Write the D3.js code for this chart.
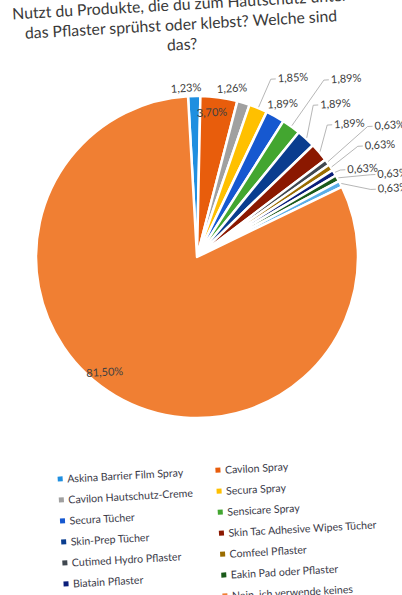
<!DOCTYPE html>
<html>
<head>
<meta charset="utf-8">
<script src="https://cdn.jsdelivr.net/npm/d3@7"></script>
<style>
  html, body { margin: 0; padding: 0; background: #fff; }
  svg { display: block; }
</style>
</head>
<body>
<div id="chart"></div>
<script>
// data
const categories = [
    "Askina Barrier Film Spray",
    "Cavilon Spray",
    "Cavilon Hautschutz-Creme",
    "Secura Spray",
    "Secura Tücher",
    "Sensicare Spray",
    "Skin-Prep Tücher",
    "Skin Tac Adhesive Wipes Tücher",
    "Cutimed Hydro Pflaster",
    "Comfeel Pflaster",
    "Biatain Pflaster",
    "Eakin Pad oder Pflaster",
    "",
    "Nein, ich verwende keines"
];
const percents = [1.23, 3.70, 1.26, 1.85, 1.89, 1.89, 1.89, 1.89, 0.63, 0.63, 0.63, 0.63, 0.63, 81.50];
const titleLines = [
    "Nutzt du Produkte, die du zum Hautschutz unter",
    "das Pflaster sprühst oder klebst? Welche sind",
    "das?"
];

// styles / layout
const colors = ["#1f8fe0", "#e85d0c", "#a0a0a0", "#ffc000", "#1658d0", "#43a630", "#0a3d8f",
    "#8b1800", "#404850", "#9a6c00", "#0a1e7a", "#1a5a1a", "#5aaee8", "#f07f33"];
// label placement tweaks (distance from centre in px, turn from slice middle in degrees)
const labelDist = [170, 146, 173, 204, 176, 233, 207, 203, 234, 215, 188, 213, 208, 147];
const labelTurn = [-2.7, -2, -5.1, 5.7, 0, 3.9, -0.7, -0.8, 1.5, 2.1, 3.2, 5.9, 7.4, 8.4];

const W = 402, H = 595;
const cx = 197, cy = 257, r = 161;
const tilt = -3.2;
const font = "Lato, 'Open Sans', sans-serif";

const svg = d3.select("#chart").append("svg")
    .attr("width", W)
    .attr("height", H);

svg.append("rect").attr("width", W).attr("height", H).attr("fill", "#fff");

const g = svg.append("g")
    .attr("transform", `rotate(${tilt},${cx},${cy})`);

// title
g.append("text")
    .attr("x", 194)
    .attr("y", 9.5)
    .attr("text-anchor", "middle")
    .attr("font-family", font)
    .attr("font-size", 15.8)
    .attr("fill", "#3a3a3a")
    .selectAll("tspan")
    .data(titleLines)
    .join("tspan")
    .attr("x", 194)
    .attr("dy", (d, i) => i === 0 ? 0 : 20)
    .text(d => d);

// pie
const pie = d3.pie().sort(null).value(d => d);
const arcs = pie(percents);
const arc = d3.arc().innerRadius(0).outerRadius(r);

const pieG = g.append("g").attr("transform", `translate(${cx},${cy})`);

pieG.selectAll("path.slice")
    .data(arcs)
    .join("path")
    .attr("class", "slice")
    .attr("d", arc)
    .attr("fill", (d, i) => colors[i])
    .attr("stroke", "#fff")
    .attr("stroke-width", 2.5)
    .attr("stroke-linejoin", "round");

// labels
const fmt = v => v.toFixed(2).replace(".", ",") + "%";
const polar = (a, d) => [Math.sin(a) * d, -Math.cos(a) * d];

const labelG = pieG.append("g");
arcs.forEach((d, i) => {
    const mid = (d.startAngle + d.endAngle) / 2;
    const a = mid + labelTurn[i] * Math.PI / 180;
    const [lx, ly] = polar(a, labelDist[i]);
    const t = labelG.append("text")
        .attr("x", lx)
        .attr("y", ly)
        .attr("text-anchor", "middle")
        .attr("dominant-baseline", "central")
        .attr("font-family", font)
        .attr("font-size", 11)
        .attr("fill", "#404040")
        .text(fmt(percents[i]));
    if (labelDist[i] - r > 25) {
        const w = t.node().getComputedTextLength();
        const [sx, sy] = polar(mid, r + 1);
        const ex = lx - w / 2 - 2, ey = ly + 1;
        labelG.append("path")
            .attr("d", `M${sx},${sy}L${ex - 5},${ey}L${ex},${ey}`)
            .attr("fill", "none")
            .attr("stroke", "#a6a6a6")
            .attr("stroke-width", 0.8);
    }
});

// legend
const legG = g.append("g")
    .attr("font-family", font)
    .attr("font-size", 10.6)
    .attr("fill", "#3a3a48");

categories.forEach((name, i) => {
    if (!name) return;
    const col = i % 2, row = Math.floor(i / 2);
    const x = col === 0 ? 48 : 206;
    const y = 471 + row * 21;
    legG.append("rect")
        .attr("x", x - 2.5)
        .attr("y", y - 2.5)
        .attr("width", 5)
        .attr("height", 5)
        .attr("fill", colors[i]);
    legG.append("text")
        .attr("x", x + 7)
        .attr("y", y)
        .attr("dominant-baseline", "central")
        .text(name);
});
</script>
</body>
</html>
